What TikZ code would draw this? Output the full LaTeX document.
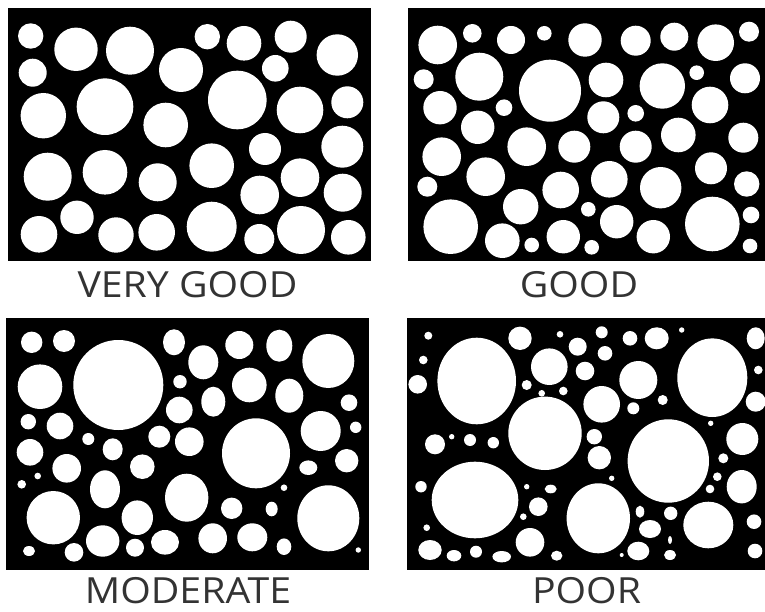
\documentclass[tikz,border=0pt]{standalone}
\usepackage{fontspec}
\setmainfont{Open Sans}
\begin{document}
\begin{tikzpicture}[x=1pt,y=-1pt]
\tikzset{
  panel/.style={fill=black},
  hole/.style={fill=white},
  lab/.style={font=\fontsize{36}{38}\selectfont, text=black!80, anchor=base, inner sep=0pt, xscale=1.09}
}
\fill[white] (0,0) rectangle (765,612);
\useasboundingbox (0,0) rectangle (765,612);
% panels
\fill[panel] (8,8) rectangle (371,261);
\fill[panel] (408,8) rectangle (765,261);
\fill[panel] (6,318) rectangle (369,570);
\fill[panel] (407,318) rectangle (765,570);
% VERY GOOD
\foreach \a/\b/\r in {30.7/36/12.7, 76/49.3/21.7, 130/50.7/24, 32.7/72.7/14, 181/70/22, 207.3/36.7/12.7, 244/43.3/17.3, 290.7/36.7/16, 337.3/55/20.7, 275.3/68.3/13.3, 237.3/100/29.3, 300/110/23.3, 347.3/102.3/16, 43.3/115.7/22.7, 105/106.7/28.3, 165.7/125/22.3, 265/149/16, 342.3/146.7/21, 47.7/176.7/24, 105/172.3/22.3, 157.7/182.3/19, 211.7/165.7/22.3, 300/177.7/19.3, 259.7/195/19.3, 342.7/192.7/19, 77/217.3/16.7, 39/234.3/18.3, 116/235/17.7, 156.7/232.3/18.3, 211.7/226.7/25, 259.3/239/15, 301/230/24, 348.3/237.3/17.3}
  {\fill[hole] (\a,\b) circle[radius=\r pt];}
% GOOD
\foreach \a/\b/\r in {437.7/45/19.3, 472.3/33.3/9.3, 511/40/14, 544.3/33.3/7.3, 585/40/16.7, 635.7/40.7/15, 674.3/36.7/14, 715.7/42.7/18.3, 749/31.7/10, 423.7/79.3/10, 479.3/76.7/24, 550/90.7/31, 606/80/17.3, 662.3/86/22.7, 696.7/72.7/7.3, 745/78.3/15, 440/107.7/16.7, 504/107.7/8.3, 603.3/117.3/16, 635.7/113.3/8.3, 710/105/18.3, 477.7/127.3/16.7, 526.7/146.7/19.3, 574.3/146.7/16, 635.7/146.7/16, 678.3/135/17.3, 743.3/137.7/15, 441.7/156.7/19.3, 485.7/176.7/19.3, 609.3/179.3/18.3, 711/168.3/16, 560.7/190/18.3, 660.7/187.7/20.7, 746.7/184/12.7, 427.3/186.7/10, 520.7/206.7/17.7, 588.3/209.3/7.3, 450.7/226.7/27.3, 616.7/221.7/16.7, 712.3/224/27.3, 751/215/8.3, 502.3/240.7/17.3, 531.7/245/7.3, 563.3/236.7/16.7, 591.7/247.3/7.3, 653.3/236.7/16.7, 750/246/7.3}
  {\fill[hole] (\a,\b) circle[radius=\r pt];}
% MODERATE
\foreach \a/\b/\p/\q in {31.7/342.3/10.7/10.7, 64/341/11/11, 118.3/385/45/45, 174/342.3/11/13, 203.3/362.3/15/17, 239.3/345/14/14, 279.3/345.7/13/16, 328.3/361/26/27, 40/386.7/22.3/22.3, 180/381.7/6.7/6.7, 249.3/385/17.3/17.3, 289.3/395.7/14/17, 213.3/401.7/12/15, 179.3/410/13.3/13.3, 349/402.7/8.3/8.3, 28.3/421.7/7.7/7.7, 60/426/13.3/13.3, 88.3/439/6/6, 159.3/436.7/11/11, 189.3/441.7/14.3/14.3, 256/453.3/34/35, 320.7/431/20/20, 355.7/427.3/5.7/5.7, 30/452.3/13.3/13.3, 112.7/449.3/10/11, 66.7/468.3/14.3/14.3, 142.3/466.7/12.3/12.3, 308.3/467.7/9/7.3, 346.7/460.7/11.7/11.7, 37.7/476/3.3/3.3, 21.7/484.3/4.3/4.3, 105/489.3/15/19, 186.7/497.7/21.7/24, 284/487.7/3.3/3.3, 328.3/518.3/31/33, 53.3/517.7/26.7/26.7, 137.3/517.7/15.7/17.3, 231.7/508.3/10.7/10.7, 271.7/509/6/7.3, 102.7/541/16.7/15.7, 135/547.7/9/9, 165/542.3/14/12.3, 212.7/538.3/14.3/15, 252.3/537.3/15/14, 284/546.7/7.3/8.3, 29/551/6/5, 74/552.3/9.3/9.3, 358.3/550/2.7/2.7}
  {\fill[hole] (\a,\b) ellipse[x radius=\p pt, y radius=\q pt];}
% POOR
\foreach \a/\b/\p/\q in {476.7/381/39.3/43.3, 428.3/335.7/4/4, 423.3/360/4.3/4.3, 417.7/384.3/9.3/9.3, 520/338.3/11.7/11.7, 549.3/366.7/18.3/18.3, 577.7/346.7/9/9, 585/371/9.3/9.3, 601.7/332.3/6/6, 605/353.3/7.3/7.3, 630/338.3/7.3/7.3, 656.7/338.3/12/11, 560/334.3/3.3/3.3, 681.7/330/2.7/2.7, 638.3/380/19/19, 712.3/377.7/35/39.3, 755.7/338.3/9/11, 758.3/370/4.3/4.3, 755.7/401.7/10/10, 526.7/385/5/5, 563.3/391/4.3/4.3, 541.7/393.3/3.3/3.3, 601.7/404.3/18.3/18.3, 633.3/408.3/6/6, 662.7/400/5/5, 545/433.3/36.7/36.7, 435/444.3/10/10, 470/440/6/6, 493.3/442.7/5.7/5.7, 451.7/436.7/2.7/2.7, 594.3/436.7/7.7/7.7, 599.3/457.7/11.7/11.7, 668.3/461/40.7/41.7, 742.3/439/16/16, 723.3/458.3/5/5, 710.7/423.3/2.7/2.7, 475/500/43.3/38.3, 421/486.7/5.7/5.7, 550.7/489/6/4.3, 538.3/506.7/9.3/9.3, 526.7/486.7/2.7/2.7, 598.3/518.3/31.7/35, 741.7/486.7/15/16.7, 717.3/476.7/4.3/4.3, 710/489/4.3/4.3, 611.7/478.3/2.7/2.7, 640/511.7/4.3/6, 670.7/513.3/6.7/6.7, 708.3/525/25/23.3, 754/521.7/7.3/7.3, 523.3/516.7/3.3/3.3, 426.7/527.7/3.3/3.3, 650/529/11/9, 530/542.3/14.3/14.3, 430/550/11.7/10, 454/555.7/7.3/5.7, 476/551.7/6/6, 501.7/556.7/9.3/5.7, 556.7/555.7/5.7/5, 638.3/551/11/9.3, 670/555/6/5, 755/551/7.3/7.3, 621.7/555/2/2, 670/540/2/4}
  {\fill[hole] (\a,\b) ellipse[x radius=\p pt, y radius=\q pt];}
% labels
\node[lab] (l1) at (187.5,297) {VERY GOOD};
\node[lab] (l2) at (579,297) {GOOD};
\node[lab] (l3) at (188,603) {MODERATE};
\node[lab] (l4) at (586.5,603) {POOR};
\end{tikzpicture}
\end{document}
